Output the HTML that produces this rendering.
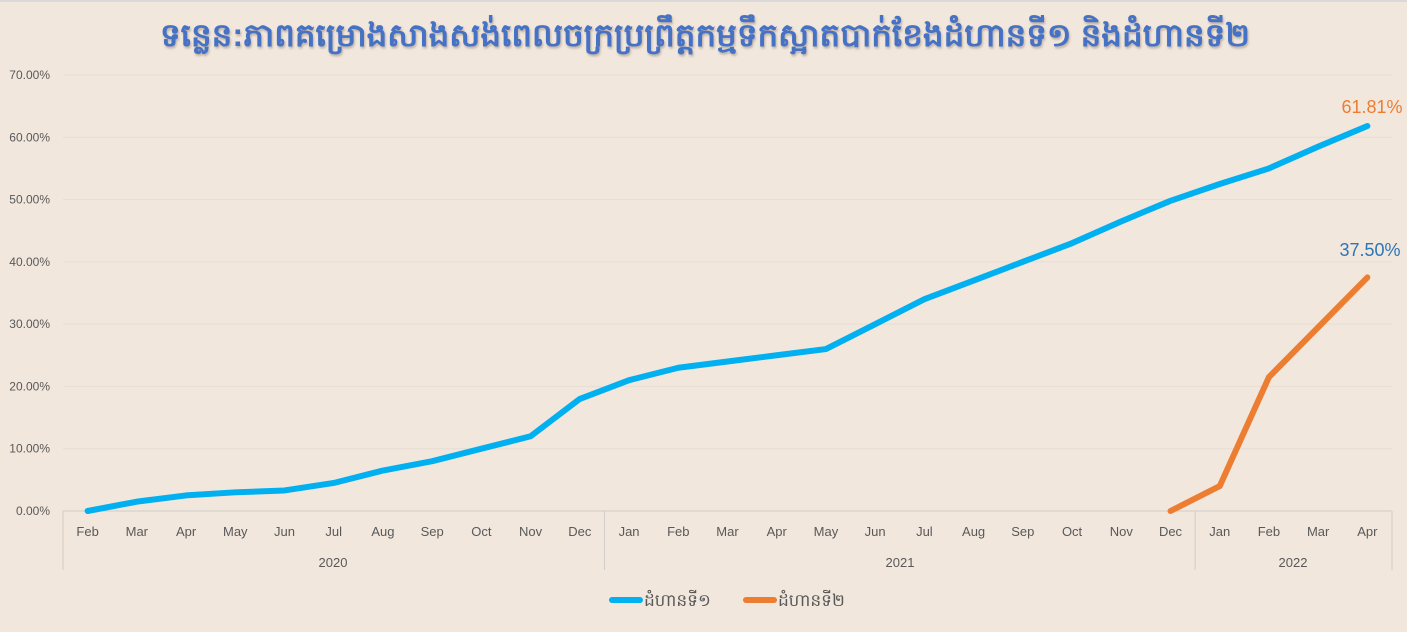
<!DOCTYPE html><html><head><meta charset="utf-8"><style>
body{margin:0;background:#f1e7dd;width:1407px;height:627px;overflow:hidden;font-family:"Liberation Sans",sans-serif}
</style></head><body>
<svg id="s" width="1407" height="627" xmlns="http://www.w3.org/2000/svg">
<defs><filter id="sh"><feDropShadow dx="1" dy="2" stdDeviation="1" flood-color="#8a7a6a" flood-opacity="0.5"/></filter></defs>
<rect width="1407" height="627" fill="#f1e7dd"/>
<line x1="0" y1="1" x2="1407" y2="1" stroke="#d9d9d9" stroke-width="2"/>
<text x="705" y="46" text-anchor="middle" font-size="32" font-weight="bold" fill="#4472c4" filter="url(#sh)" textLength="1090" lengthAdjust="spacingAndGlyphs" font-family="'Liberation Sans','Noto Sans CJK SC',sans-serif">ទន្លេន:ភាពគម្រោងសាងសង់ពេលចក្រប្រព្រឹត្តកម្មទឹកស្អាតបាក់ខែងដំហានទី១ និងដំហានទី២</text>
<g id="g"></g>
</svg>
<script>
const g=document.getElementById('g');let h='';
const x0=63,w=1329/27,yb=511,k=436/70;
const X=i=>x0+w*(i+0.5),Y=v=>yb-v*k;
for(let p=0;p<=70;p+=10){h+=`<line x1="63" x2="1392" y1="${Y(p)}" y2="${Y(p)}" stroke="${p?'#e6ddd4':'#d0cdc9'}" stroke-width="1"/>`;
h+=`<text x="50" y="${Y(p)+4}" text-anchor="end" font-size="12" fill="#595959">${p.toFixed(2)}%</text>`;}
const m=['Feb','Mar','Apr','May','Jun','Jul','Aug','Sep','Oct','Nov','Dec','Jan','Feb','Mar','Apr','May','Jun','Jul','Aug','Sep','Oct','Nov','Dec','Jan','Feb','Mar','Apr'];
m.forEach((t,i)=>h+=`<text x="${X(i)}" y="536" text-anchor="middle" font-size="13" fill="#595959">${t}</text>`);
[0,11,23,27].forEach(i=>{const x=x0+w*i;h+=`<line x1="${x}" x2="${x}" y1="511" y2="570" stroke="#d0cdc9"/>`});
h+=`<text x="333" y="567" text-anchor="middle" font-size="13" fill="#595959">2020</text><text x="900" y="567" text-anchor="middle" font-size="13" fill="#595959">2021</text><text x="1293" y="567" text-anchor="middle" font-size="13" fill="#595959">2022</text>`;
const b=[0,1.5,2.5,3,3.3,4.5,6.5,8,10,12,18,21,23,24,25,26,30,34,37,40,43,46.5,49.8,52.5,55,58.5,61.81];
const o=[0,4,21.5,29.5,37.5];
h+=`<polyline fill="none" stroke="#00b0f0" stroke-width="6" stroke-linejoin="round" stroke-linecap="round" points="${b.map((v,i)=>X(i)+','+Y(v)).join(' ')}"/>`;
h+=`<polyline fill="none" stroke="#ed7d31" stroke-width="6" stroke-linejoin="round" stroke-linecap="round" points="${o.map((v,i)=>X(i+22)+','+Y(v)).join(' ')}"/>`;
h+=`<text x="1372" y="113" text-anchor="middle" font-size="18" fill="#ed7d31">61.81%</text><text x="1370" y="256" text-anchor="middle" font-size="18" fill="#2e75b6">37.50%</text>`;
h+=`<line x1="612" x2="640" y1="600" y2="600" stroke="#00b0f0" stroke-width="6" stroke-linecap="round"/><text x="644" y="606" font-size="17" fill="#595959">ដំហានទី១</text>`;
h+=`<line x1="746" x2="774" y1="600" y2="600" stroke="#ed7d31" stroke-width="6" stroke-linecap="round"/><text x="778" y="606" font-size="17" fill="#595959">ដំហានទី២</text>`;
g.innerHTML=h;
</script>
</body></html>
